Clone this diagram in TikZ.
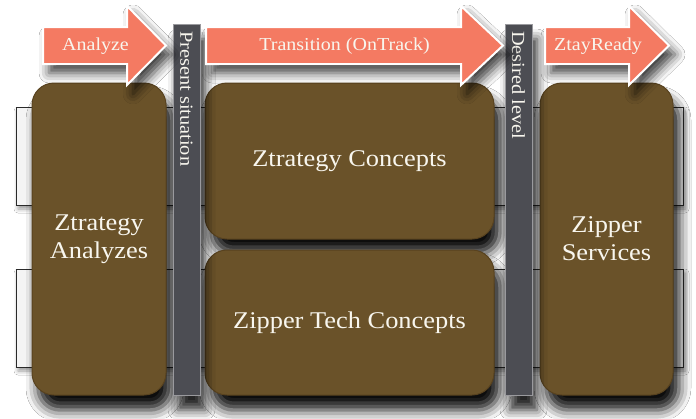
\documentclass[tikz,border=0pt]{standalone}
\usepackage{fontspec}
\setmainfont[FakeStretch=1.1]{Liberation Serif}
\usetikzlibrary{shadows.blur}
\definecolor{boxbrown}{HTML}{6A5229}
\definecolor{boxedge}{HTML}{58421F}
\definecolor{arrowsalmon}{HTML}{F47A62}
\definecolor{bardark}{HTML}{4C4D53}
\definecolor{baredge}{HTML}{9A9A9E}
\definecolor{stripedge}{HTML}{2A2A2A}
\definecolor{textwhite}{HTML}{F8F6EE}
\definecolor{shadowgray}{HTML}{3A3A3A}
\tikzset{
  stripbox/.style={left color=white!96!black, right color=white!96!black, middle color=white!80!black,
    draw=stripedge, line width=0.8pt,
    blur shadow={shadow xshift=2pt, shadow yshift=-4pt, shadow blur radius=4pt, shadow opacity=40}},
  brownbox/.style={rectangle, rounded corners=22pt, fill=boxbrown, draw=boxedge, line width=1pt,
    text=textwhite, align=center, font=\fontsize{24}{28}\selectfont,
    blur shadow={shadow xshift=6pt, shadow yshift=-15pt, shadow blur radius=12pt, shadow opacity=95}},
  barbox/.style={rectangle, draw=baredge, line width=1pt, fill=bardark, inner sep=0pt,
    blur shadow={shadow xshift=5pt, shadow yshift=-15pt, shadow blur radius=10pt, shadow opacity=85}},
  barlabel/.style={rotate=-90, anchor=west, text=textwhite, inner sep=0pt,
    font=\fontsize{18.5}{20}\selectfont},
  stagearrow/.style={fill=arrowsalmon, draw=white, line width=2pt, line join=miter,
    blur shadow={shadow xshift=6pt, shadow yshift=-9pt, shadow blur radius=10pt, shadow opacity=75}},
  arrowlabel/.style={text=textwhite, inner sep=0pt, font=\fontsize{18.2}{20}\selectfont},
}
\begin{document}
\begin{tikzpicture}[x=1pt,y=-1pt]
\useasboundingbox[fill=white] (0,0) rectangle (696,418);
% background strips
\path[stripbox] (16,107) rectangle (683,205);
\path[stripbox] (16,269) rectangle (683,367);
% boxes
\node[brownbox, minimum width=134pt, minimum height=312pt] (analyzes) at (99,239) {Ztrategy\\Analyzes};
\node[brownbox, minimum width=289pt, minimum height=156pt] (concepts) at (349.5,161) {Ztrategy Concepts};
\node[brownbox, minimum width=289pt, minimum height=145pt] (tech) at (349.5,322.5) {Zipper Tech Concepts};
\node[brownbox, minimum width=133pt, minimum height=312pt] (services) at (606.5,239) {Zipper\\Services};
% bars
\node[barbox, minimum width=27pt, minimum height=371pt] (present) at (186.5,209.5) {};
\node[barbox, minimum width=27pt, minimum height=371pt] (desired) at (518.5,209.5) {};
\node[barlabel] (presentlabel) at (186.5,31) {Present situation};
\node[barlabel] (desiredlabel) at (518.5,31) {Desired level};
% arrows
\path[stagearrow] (43,27) -- (127,27) -- (127,6) -- (166,45.5) -- (127,85) -- (127,64) -- (43,64) -- cycle;
\path[stagearrow] (206,27) -- (461,27) -- (461,6) -- (503,45.5) -- (461,85) -- (461,64) -- (206,64) -- cycle;
\path[stagearrow] (545,27) -- (629,27) -- (629,6) -- (669,45.5) -- (629,85) -- (629,64) -- (545,64) -- cycle;
\node[arrowlabel] (analyzelabel) at (95.5,46) {Analyze};
\node[arrowlabel] (transitionlabel) at (344.5,46) {Transition (OnTrack)};
\node[arrowlabel] (readylabel) at (598,46) {ZtayReady};
\end{tikzpicture}
\end{document}
